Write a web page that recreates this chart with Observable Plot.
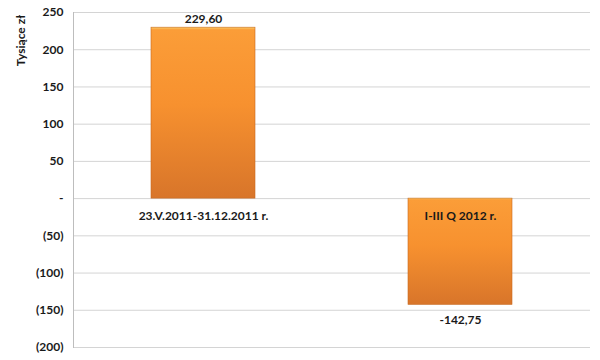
<!DOCTYPE html>
<html><head><meta charset="utf-8">
<script src="https://cdn.jsdelivr.net/npm/d3@7"></script>
<script src="https://cdn.jsdelivr.net/npm/@observablehq/plot@0.6"></script>
<style>body{margin:0;background:#fff;} svg{display:block;}</style>
</head><body><div id="chart"></div>
<script>
const categories = ["23.V.2011-31.12.2011 r.", "I-III Q 2012 r."];
const values = [229.60, -142.75];
const valueLabels = ["229,60", "-142,75"];
const yTicks = [250, 200, 150, 100, 50, 0, -50, -100, -150, -200];

const data = categories.map((c, i) => ({cat: c, value: values[i], label: valueLabels[i]}));
const fmt = v => v === 0 ? "-" : v < 0 ? `(${-v})` : `${v}`;
const font = "Lato, 'Open Sans', sans-serif";

const chart = Plot.plot({
  width: 600, height: 360,
  marginLeft: 73, marginRight: 10, marginTop: 12, marginBottom: 13,
  style: {fontFamily: font, fontSize: "12px", fontWeight: "bold", color: "#1a1a1a", background: "#fff"},
  x: {domain: categories, paddingInner: 0.595, paddingOuter: 0.3, axis: null},
  y: {domain: [-200, 250], ticks: yTicks, tickFormat: fmt, tickSize: 0, tickPadding: 10, label: null},
  marks: [
    Plot.gridY(yTicks, {stroke: "#d4d4d4", strokeOpacity: 1}),
    Plot.frame({anchor: "left", stroke: "#bdbdbd"}),
    Plot.barY(data, {x: "cat", y: "value", fill: "url(#barGrad)", stroke: "#c86a20", strokeWidth: 0.6}),
    Plot.text(data, {x: "cat", y: "value", text: "label", fontSize: 12, fontWeight: "bold", fill: "#1a1a1a",
      filter: d => d.value > 0, dy: -9}),
    Plot.text(data, {x: "cat", y: "value", text: "label", fontSize: 12, fontWeight: "bold", fill: "#1a1a1a",
      filter: d => d.value < 0, dy: 15}),
    Plot.text(data, {x: "cat", y: () => 0, text: "cat", fontSize: 12, fontWeight: "bold", fill: "#1a1a1a", dy: 17.5}),
    Plot.text(["Tysiące zł"], {frameAnchor: "top-left", text: d => d, rotate: -90, dx: -52, dy: 28,
      textAnchor: "middle", lineAnchor: "middle",
      fontSize: 12, fontWeight: "bold", fill: "#1a1a1a"}),
    Plot.axisY({ticks: yTicks, tickFormat: fmt, tickSize: 0, tickPadding: 10, label: null, fontWeight: "bold", fontSize: 12})
  ]
});

const ns = "http://www.w3.org/2000/svg";
const defs = document.createElementNS(ns, "defs");
const grad = document.createElementNS(ns, "linearGradient");
grad.setAttribute("id", "barGrad");
grad.setAttribute("x1", "0"); grad.setAttribute("y1", "0");
grad.setAttribute("x2", "0"); grad.setAttribute("y2", "1");
[["0", "#fbd06a"], ["0.015", "#fb9d38"], ["0.45", "#f7912f"], ["1", "#d8752a"]].forEach(([o, c]) => {
  const s = document.createElementNS(ns, "stop");
  s.setAttribute("offset", o); s.setAttribute("stop-color", c);
  grad.appendChild(s);
});
defs.appendChild(grad);
chart.insertBefore(defs, chart.firstChild);
document.getElementById("chart").appendChild(chart);
</script></body></html>
